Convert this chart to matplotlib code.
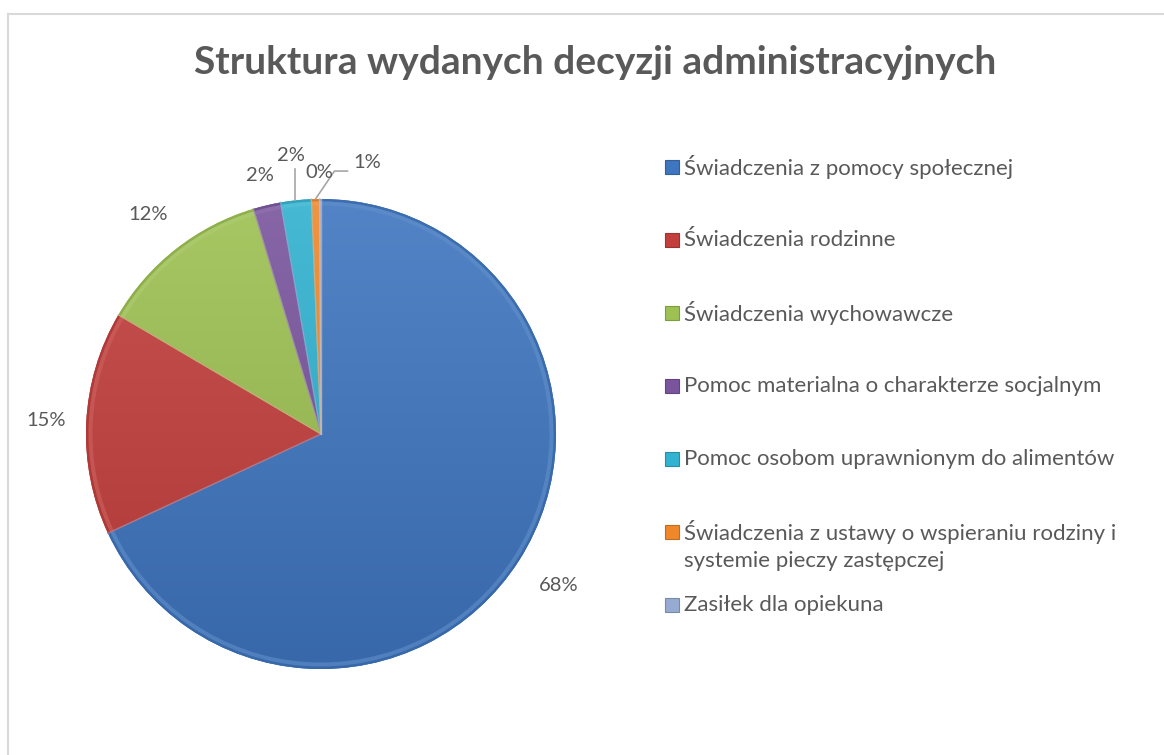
import matplotlib
matplotlib.use("Agg")
import matplotlib.pyplot as plt
import numpy as np
from matplotlib.patches import Rectangle, Wedge
from matplotlib.lines import Line2D

categories = [
    "Świadczenia z pomocy społecznej",
    "Świadczenia rodzinne",
    "Świadczenia wychowawcze",
    "Pomoc materialna o charakterze socjalnym",
    "Pomoc osobom uprawnionym do alimentów",
    "Świadczenia z ustawy o wspieraniu rodziny i\nsystemie pieczy zastępczej",
    "Zasiłek dla opiekuna",
]
values = [68.1, 15.4, 11.9, 1.9, 2.1, 0.55, 0.1]
pct_labels = ["68%", "15%", "12%", "2%", "2%", "1%", "0%"]
colors = ["#3F76C0", "#C33F3C", "#9DC152", "#7A559E", "#31B2D0", "#F0882A", "#97ABD2"]
title = "Struktura wydanych decyzji administracyjnych"

W, H = 1164, 755
fig = plt.figure(figsize=(W / 100, H / 100), dpi=100)
ax = fig.add_axes([0, 0, 1, 1])

font = ["Lato", "DejaVu Sans"]
txtc = "#595959"

cx, cy, R = 321, H - 434, 235

wedges, _ = ax.pie(values, colors=colors, startangle=90, counterclock=False,
                   center=(cx, cy), radius=R, frame=True,
                   wedgeprops=dict(linewidth=0.5, edgecolor="#FFFFFF66"))
ax.set_xlim(0, W)
ax.set_ylim(0, H)
ax.axis("off")

# border (top and left visible)
ax.add_line(Line2D([8, 8], [0, H - 14], color="#D9D9D9", lw=1.5))
ax.add_line(Line2D([8, W], [H - 14, H - 14], color="#D9D9D9", lw=1.5))


def shade(c, f):
    c = np.array(matplotlib.colors.to_rgb(c))
    if f > 0:
        return tuple(c + (1 - c) * f)
    return tuple(c * (1 + f))


# vertical gradient inside each wedge (lighter at top, darker at bottom)
grad = np.linspace(0, 1, 256).reshape(-1, 1)
for w, c in zip(wedges, colors):
    top = np.array(shade(c, 0.10))
    bot = np.array(shade(c, -0.12))
    img = top[None, None, :] * (1 - grad[:, :, None]) + bot[None, None, :] * grad[:, :, None]
    im = ax.imshow(img, extent=(cx - R, cx + R, cy - R, cy + R), origin="upper",
                   aspect="auto", zorder=2, interpolation="bilinear")
    im.set_clip_path(w)
    w.set_zorder(1)
    t1, t2 = w.theta1, w.theta2
    # subtle darker outer rim and lighter inner bevel
    ax.add_patch(Wedge((cx, cy), R, t1, t2, width=2.5, facecolor=shade(c, -0.12),
                       edgecolor="none", zorder=3, alpha=0.8))
    ax.add_patch(Wedge((cx, cy), R - 2.5, t1, t2, width=4, facecolor=shade(c, 0.18),
                       edgecolor="none", zorder=3, alpha=0.6))
    # radial highlight lines
    for t in (t1, t2):
        a = np.deg2rad(t)
        ax.plot([cx, cx + R * np.cos(a)], [cy, cy + R * np.sin(a)],
                color=shade(c, 0.25), lw=1.0, alpha=0.6, zorder=3)

# percentage labels
label_dist = [1.2, 1.17, 1.19, 1.13, None, None, None]
fs_lab = 14.5
for i, (w, lab) in enumerate(zip(wedges, pct_labels)):
    mid = np.deg2rad((w.theta1 + w.theta2) / 2)
    if label_dist[i] is not None:
        d = label_dist[i] * R
        tx, ty = cx + d * np.cos(mid), cy + d * np.sin(mid)
        ax.text(tx, ty, lab, ha="center", va="center", fontsize=fs_lab,
                color=txtc, family=font, zorder=5)
    ex, ey = cx + R * np.cos(mid), cy + R * np.sin(mid)
    if i == 4:
        ax.plot([ex - 1, ex - 1], [ey, ey + 31], color="#A6A6A6", lw=1.2, zorder=4)
        ax.text(ex - 5, ey + 45, lab, ha="center", va="center", fontsize=fs_lab,
                color=txtc, family=font, zorder=5)
    if i == 5:
        ax.plot([ex, ex + 19, ex + 32], [ey, ey + 28, ey + 28], color="#A6A6A6",
                lw=1.2, zorder=4)
        ax.text(ex + 52, ey + 37, lab, ha="center", va="center", fontsize=fs_lab,
                color=txtc, family=font, zorder=5)
    if i == 6:
        ax.text(ex - 1, ey + 27, lab, ha="center", va="center", fontsize=fs_lab,
                color=txtc, family=font, zorder=5)

# title
ax.text(595, H - 62, title, ha="center", va="center", fontsize=28,
        fontweight="bold", color=txtc, family=font)

# legend
lx, ly0, step = 665, H - 167, 73
fs_leg = 16
for i, (cat, c) in enumerate(zip(categories, colors)):
    y = ly0 - i * step
    ax.add_patch(Rectangle((lx, y - 7), 14, 14, facecolor=c,
                           edgecolor=shade(c, -0.2), lw=0.8))
    for k, ln in enumerate(cat.split("\n")):
        ax.text(lx + 19, y - k * 29, ln, ha="left", va="center",
                fontsize=fs_leg, color=txtc, family=font)

fig.savefig("out.png", dpi=100, facecolor="white")
